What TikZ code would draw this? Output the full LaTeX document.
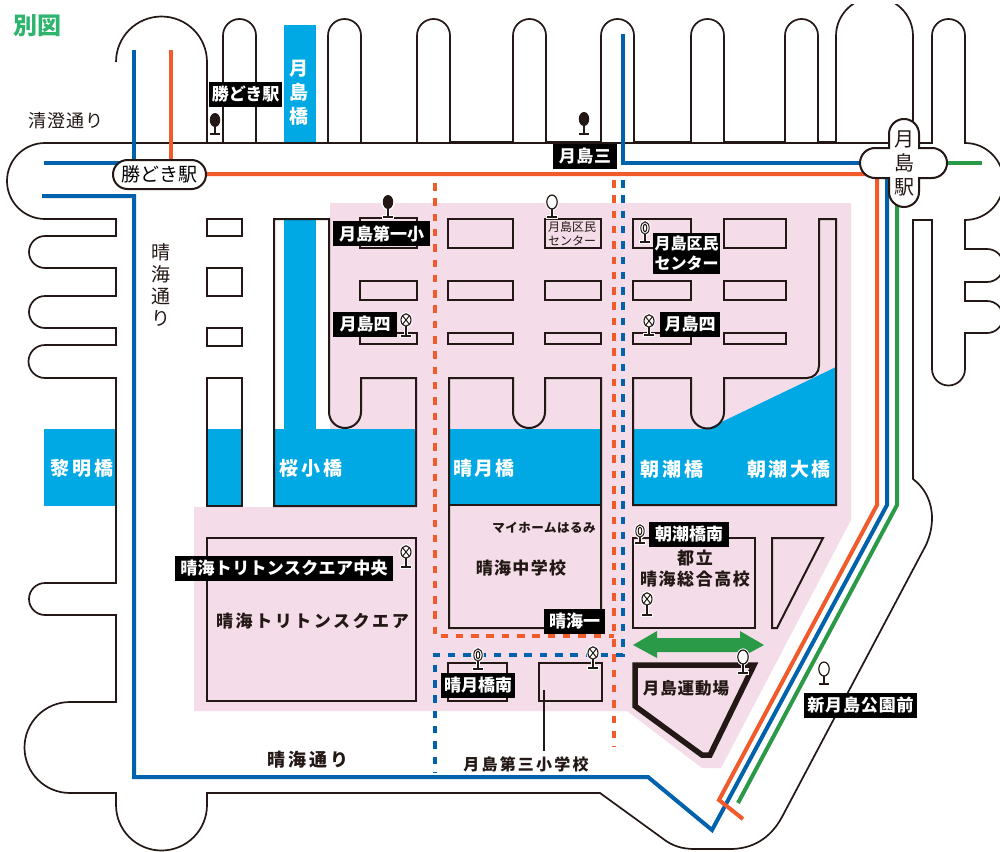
\documentclass[tikz,border=0pt]{standalone}
\usepackage{fontspec}
\setmainfont{Noto Sans CJK JP}
\definecolor{ink}{HTML}{231815}
\definecolor{pinkbg}{HTML}{F4DDE8}
\definecolor{water}{HTML}{00A9E4}
\definecolor{lineblue}{HTML}{0061AD}
\definecolor{lineorange}{HTML}{F15A2B}
\definecolor{linegreen}{HTML}{2A9A48}
\definecolor{titlegreen}{HTML}{2DB56E}
\newcommand\fsz[1]{\fontsize{#1}{#1}\selectfont}
\newcommand\LS[2]{{\addfontfeatures{LetterSpace=#1}#2}}
\tikzset{
  road/.style={draw=ink,line width=1.7pt,line join=miter},
  block/.style={draw=ink,line width=2pt},
  routeb/.style={draw=lineblue,line width=4pt},
  routeo/.style={draw=lineorange,line width=4pt},
  routeg/.style={draw=linegreen,line width=4pt},
  dotted route/.style={line width=4pt,dash pattern=on 7.5pt off 7.8pt},
  darklabel/.style={fill=black,text=white,inner sep=0pt,align=center},
  plain/.style={text=ink,inner sep=0pt,align=center},
  waterlabel/.style={text=white,inner sep=0pt,align=center},
  station/.style={draw=ink,line width=2pt,fill=white}
}
% pin: x, head centre y, base y, rx, ry
\newcommand\pinbody[5]{%
  \draw[white,line width=3.5pt] (#1,#2) -- (#1,#3) (#1-6,#3) -- (#1+6,#3);
  \fill[white] (#1,#2) ellipse[x radius=#4pt+1.6pt,y radius=#5pt+1.6pt];
  \draw[ink,line width=1.3pt] (#1,#2) -- (#1,#3);
  \draw[ink,line width=1.8pt] (#1-5,#3) -- (#1+5,#3);
}
\newcommand\pinfull[3]{\pinbody{#1}{#2}{#3}{5.2}{7}\fill[ink] (#1,#2) ellipse[x radius=5.2pt,y radius=7pt];}
\newcommand\pinopen[3]{\pinbody{#1}{#2}{#3}{5.2}{7}\draw[ink,fill=white,line width=1.2pt] (#1,#2) ellipse[x radius=5.2pt,y radius=7pt];}
\newcommand\pindouble[3]{\pinbody{#1}{#2}{#3}{4.2}{6.2}\draw[ink,fill=white,line width=1pt] (#1,#2) ellipse[x radius=4.2pt,y radius=6.2pt] (#1,#2) ellipse[x radius=1.8pt,y radius=3.8pt];}
\newcommand\pincross[3]{\pinbody{#1}{#2}{#3}{5}{6.2}\draw[ink,fill=white,line width=1.1pt] (#1,#2) ellipse[x radius=5pt,y radius=6.2pt];\draw[ink,line width=1pt] (#1-3.4,#2-4.2) -- (#1+3.4,#2+4.2) (#1-3.4,#2+4.2) -- (#1+3.4,#2-4.2);}
\begin{document}
\begin{tikzpicture}[x=1pt,y=-1pt]
\useasboundingbox (0,0) rectangle (1000,851);
\clip (0,0) rectangle (1000,851);
\fill[white] (0,0) rectangle (1000,851);
% pink district
\fill[pinkbg] (330,203) -- (851,203) -- (851,520) -- (721,768) -- (702,768) -- (627,711) -- (194,711) -- (194,507) -- (330,507) -- cycle;
% water
\fill[water] (284,25) rectangle (316,143);
\fill[water] (44,429) rectangle (116,506);
\fill[water] (207,429) rectangle (242,506);
\fill[water] (284,219) rectangle (316,429);
\fill[water] (274,429) rectangle (416,506);
\fill[water] (449,429) rectangle (601,505);
\fill[water] (633,429) -- (707,429) -- (836,367) -- (836,505) -- (633,505) -- cycle;
% road outline
\draw[road] (116,62) arc[start angle=180,end angle=0,radius=45.5pt] -- (207,143) -- (223,143) -- (223,35.5)
  arc[start angle=180,end angle=0,radius=16.5pt] -- (256,143) -- (328,143) -- (328,35.5)
  arc[start angle=180,end angle=0,radius=16.5pt] -- (361,143) -- (417,143) -- (417,35.5)
  arc[start angle=180,end angle=0,radius=16.5pt] -- (450,142) -- (513,142) -- (513,35.5)
  arc[start angle=180,end angle=0,radius=16.5pt] -- (546,142) -- (601,142) -- (601,35.5)
  arc[start angle=180,end angle=0,radius=16.5pt] -- (634,142) -- (691,142) -- (691,35.5)
  arc[start angle=180,end angle=0,radius=16.5pt] -- (724,142) -- (785,142) -- (785,35.5)
  arc[start angle=180,end angle=0,radius=16.5pt] -- (818,142) -- (836,142) -- (836,36)
  arc[start angle=180,end angle=0,radius=38.5pt] -- (913,143);
\fill[white] (830,0) rectangle (920,4);
\draw[road] (915,143) -- (932,143) -- (932,35.5) arc[start angle=180,end angle=0,radius=16.5pt] -- (965,143)
  arc[start angle=90,end angle=-90,radius=38.5pt] -- (965,249) -- (987,249)
  arc[start angle=90,end angle=-90,radius=16.5pt] -- (965,282) -- (965,301) -- (987,301)
  arc[start angle=90,end angle=-90,radius=16pt] -- (965,333) -- (965,369)
  arc[start angle=0,end angle=-180,radius=16.5pt] -- (932,220) -- (913,220) -- (913,479)
  .. controls (925,488) and (932,502) .. (932,518) .. controls (932,527) and (930,536) .. (926,545)
  -- (782,817) .. controls (770,839) and (752,849) .. (730,849) -- (695,849)
  .. controls (682,849) and (672,846) .. (662,838) -- (600,793) -- (207,793) -- (207,805)
  arc[start angle=0,end angle=-180,radius=45.5pt] -- (116,793) -- (70,793)
  arc[start angle=-90,end angle=-270,radius=45.5pt] -- (116,702) -- (116,615) -- (45,615)
  arc[start angle=-90,end angle=-270,radius=16pt] -- (116,583) -- (116,378) -- (45,378)
  arc[start angle=-90,end angle=-270,radius=16.5pt] -- (116,345) -- (116,328) -- (45,328)
  arc[start angle=-90,end angle=-270,radius=16pt] -- (116,296) -- (116,268) -- (45,268)
  arc[start angle=-90,end angle=-270,radius=16pt] -- (116,236) -- (116,219) -- (45,219)
  arc[start angle=-90,end angle=-270,radius=38pt] -- (116,143) -- cycle;
% blocks, left column
\draw[block] (207,219) rectangle (242,236);
\draw[block] (207,268) rectangle (242,296);
\draw[block] (207,328) rectangle (242,346);
\draw[block] (207,378) rectangle (242,506);
% Sakura block
\draw[block] (274,506) -- (274,219) -- (329,219) -- (329,412) arc[start angle=180,end angle=360,radius=16pt] -- (361,378) -- (416,378) -- (416,506) -- cycle;
% rows
\draw[block] (360,218) rectangle (417,248);
\draw[block] (448,219) rectangle (513,248);
\draw[block] (545,219) rectangle (601,248);
\draw[block] (633,219) rectangle (691,248);
\draw[block] (724,219) rectangle (786,248);
\foreach \xa/\xb in {360/417,448/513,545/601,633/691,724/786}{
  \draw[block] (\xa,281) rectangle (\xb,300);
  \draw[block] (\xa,333) rectangle (\xb,344);
}
% Harumi block
\draw[block] (449,628) -- (449,378) -- (513,378) -- (513,412) arc[start angle=180,end angle=360,radius=16pt] -- (545,378) -- (601,378) -- (601,628) -- cycle;
\draw[ink,line width=1.6pt] (449,505) -- (601,505);
% Asashio block
\draw[block] (633,505) -- (633,378) -- (691,378) -- (691,412) arc[start angle=180,end angle=360,radius=16.5pt] -- (724,378) -- (807,378) arc[start angle=-90,end angle=0,radius=12pt] -- (819,219) -- (836,219) -- (836,505) -- cycle;
% lower blocks
\draw[block] (207,538) rectangle (416,701);
\draw[block] (633,538) rectangle (755,628);
\draw[block] (772,538) -- (823,538) -- (777,628) -- (772,628) -- cycle;
\draw[draw=ink,line width=5.5pt,line join=miter] (635,665) -- (754,665) -- (710,755) -- (702,755) -- (635,706) -- cycle;
\draw[block] (448,663) rectangle (507,701);
\draw[block] (539,663) rectangle (602,701);
% green double arrow
\fill[linegreen] (633,645) -- (657,631) -- (657,638) -- (740,638) -- (740,631) -- (764,645) -- (740,658) -- (740,652) -- (657,652) -- (657,658) -- cycle;
% dotted routes
\draw[lineorange,dotted route] (434.5,183) -- (434.5,636) -- (614,636);
\draw[lineorange,dotted route] (614,180) -- (614,747);
\draw[lineblue,dotted route] (623,180) -- (623,655) -- (434.5,655) -- (434.5,772);
% routes
\draw[routeb] (134,50) -- (134,163);
\draw[routeb] (44,163) -- (134,163);
\draw[routeo] (171,50) -- (171,165);
\draw[routeb] (42,196) -- (134,196) -- (134,777) -- (648,777) -- (712,830) -- (887,505) -- (887,170);
\draw[routeb] (623,34) -- (623,163) -- (870,163);
\draw[routeo] (200,174) -- (877,174) -- (877,505) -- (719,800) -- (743,819);
\draw[routeg] (897,170) -- (897,505) -- (738,803);
\draw[routeg] (940,163) -- (982,163);
% stations
\node[station,rounded corners=14.5pt,minimum width=93pt,minimum height=29pt,inner sep=0pt] (kachidoki) at (159.5,174.5) {\fsz{19}勝どき駅};
\path[station] (889,148) -- (889,134) arc[start angle=180,end angle=0,radius=15pt] -- (919,148) -- (932,148)
  arc[start angle=90,end angle=-90,radius=15pt] -- (919,178) -- (919,192)
  arc[start angle=0,end angle=-180,radius=15pt] -- (889,178) -- (875,178)
  arc[start angle=270,end angle=90,radius=15pt] -- cycle;
\node[plain,font=\fontsize{20}{24}\selectfont] (tsukishima) at (904,163.5) {月\\島\\駅};
% leader
\coordinate (schoolin) at (544,690);
\node[plain,font=\bfseries] (sanshou) at (526,764) {\fsz{16}\LS{14}{月島第三小学校}};
\draw[ink,line width=1.5pt] (schoolin) -- (544,751);
% pins
\pinfull{215}{120}{134}
\pinfull{584}{119}{134}
\pinfull{388}{202}{217}
\pinopen{552}{202}{217}
\pindouble{645}{228}{242}
\pincross{406}{320}{336}
\pincross{649}{321}{335}
\pincross{406}{552}{567}
\pindouble{640}{531}{543}
\pincross{647}{599}{615}
\pinopen{743}{657}{673}
\pinopen{824}{669}{684}
\pindouble{478}{655}{669}
\pincross{593}{653}{668}
% dark labels
\node[darklabel,minimum width=73pt,minimum height=25pt,font=\bfseries] (l1) at (245.5,94.5) {\fsz{17}勝どき駅};
\node[darklabel,minimum width=64pt,minimum height=25pt,font=\bfseries] (l2) at (585,156.5) {\fsz{17}\LS{3}{月島三}};
\node[darklabel,minimum width=97pt,minimum height=25pt,font=\bfseries] (l3) at (381.5,233.5) {\fsz{17}月島第一小};
\node[darklabel,minimum width=64pt,minimum height=25pt,font=\bfseries] (l4) at (365,324.5) {\fsz{17}月島四};
\node[darklabel,minimum width=67pt,minimum height=41pt,font=\bfseries\fontsize{16}{20}\selectfont] (l5) at (686.5,253.5) {月島区民\\センター};
\node[darklabel,minimum width=60pt,minimum height=25pt,font=\bfseries] (l6) at (690,324.5) {\fsz{17}月島四};
\node[darklabel,minimum width=218pt,minimum height=25pt,font=\bfseries] (l7) at (284,568.5) {\fsz{17}\LS{2}{晴海トリトンスクエア中央}};
\node[darklabel,minimum width=80pt,minimum height=25pt,font=\bfseries] (l8) at (689,534.5) {\fsz{17}朝潮橋南};
\node[darklabel,minimum width=61pt,minimum height=25pt,font=\bfseries] (l9) at (574.5,621.5) {\fsz{17}晴海一};
\node[darklabel,minimum width=74pt,minimum height=25pt,font=\bfseries] (l10) at (478,685.5) {\fsz{17}晴月橋南};
\node[darklabel,minimum width=113pt,minimum height=25pt,font=\bfseries] (l11) at (860.5,705.5) {\fsz{17}\LS{5}{新月島公園前}};
% water labels
\node[waterlabel,font=\bfseries\fontsize{19}{24}\selectfont] (w1) at (299,93) {月\\島\\橋};
\node[waterlabel,font=\bfseries] (w2) at (82,468) {\fsz{19}\LS{14}{黎明橋}};
\node[waterlabel,font=\bfseries] (w3) at (311,468) {\fsz{19}\LS{18}{桜小橋}};
\node[waterlabel,font=\bfseries] (w4) at (484,468) {\fsz{19}\LS{12}{晴月橋}};
\node[waterlabel,font=\bfseries] (w5) at (672,469) {\fsz{19}\LS{18}{朝潮橋}};
\node[waterlabel,font=\bfseries] (w6) at (789,469) {\fsz{19}\LS{14}{朝潮大橋}};
% plain labels
\node[inner sep=0pt,text=titlegreen,font=\bfseries] (title) at (37,26) {\fsz{24}別図};
\node[plain] (kiyosumi) at (66,121) {\fsz{18}\LS{6}{清澄通り}};
\node[plain,font=\fontsize{19}{22}\selectfont] (harumiv) at (161,285) {晴\\海\\通\\り};
\node[plain,font=\bfseries] (harumih) at (308,760) {\fsz{18}\LS{17}{晴海通り}};
\node[plain,font=\bfseries] (home) at (544,528) {\fsz{12.5}\LS{4}{マイホームはるみ}};
\node[plain,font=\bfseries] (chu) at (521,568) {\fsz{17}\LS{8}{晴海中学校}};
\node[plain,font=\bfseries] (triton) at (312.5,621) {\fsz{17}\LS{15}{晴海トリトンスクエア}};
\node[plain,font=\bfseries\fontsize{17}{21}\selectfont] (toritsu) at (695,568.5) {\LS{9}{都立}\\\LS{9}{晴海総合高校}};
\node[plain,font=\bfseries] (undo) at (686,688) {\fsz{16.5}\LS{6}{月島運動場}};
\node[plain,font=\fontsize{12}{14}\selectfont] (kumin) at (572,234) {月島区民\\センター};
\end{tikzpicture}
\end{document}
